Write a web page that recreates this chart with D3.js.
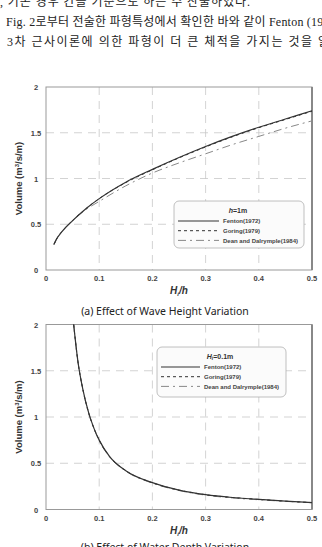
<!DOCTYPE html>
<meta charset="utf-8">
<style>
  body { margin: 0; background: #fff; }
  svg { display: block; }
</style>
<body>
<script src="https://cdn.jsdelivr.net/npm/d3@7"></script>
<script>
// text lines above the figure (cut by the page edge)
var textLines = [
  ", 기존 경우 간을 기준으로 하는 수 산출하였다.",
  "Fig. 2로부터 전술한 파형특성에서 확인한 바와 같이 Fenton (1972)",
  "3차 근사이론에 의한 파형이 더 큰 체적을 가지는 것을 알"
];

var xTicks = [0, 0.1, 0.2, 0.3, 0.4, 0.5];
var yTicks = [0, 0.5, 1, 1.5, 2];
var seriesNames = ["Fenton(1972)", "Goring(1979)", "Dean and Dalrymple(1984)"];

// (a) wave height variation, h = 1m
var heightX = [0.015, 0.02, 0.03, 0.05, 0.075, 0.1, 0.15, 0.2, 0.25, 0.3, 0.35, 0.4, 0.45, 0.5];
var heightFenton = [0.28, 0.34, 0.42, 0.54, 0.67, 0.78, 0.96, 1.10, 1.23, 1.35, 1.46, 1.56, 1.65, 1.74];
var heightGoring = [0.28, 0.34, 0.42, 0.54, 0.67, 0.78, 0.955, 1.095, 1.225, 1.345, 1.455, 1.555, 1.645, 1.735];
var heightDean   = [0.28, 0.34, 0.42, 0.54, 0.66, 0.75, 0.92, 1.06, 1.17, 1.27, 1.37, 1.46, 1.55, 1.63];

// (b) water depth variation, Hi = 0.1m
var depthX = [0.052, 0.06, 0.07, 0.08, 0.09, 0.1, 0.12, 0.15, 0.2, 0.25, 0.3, 0.35, 0.4, 0.45, 0.5];
var depthFenton = [2.0, 1.6, 1.28, 1.05, 0.88, 0.75, 0.57, 0.42, 0.29, 0.21, 0.16, 0.13, 0.11, 0.09, 0.075];
var depthGoring = [2.0, 1.6, 1.28, 1.05, 0.88, 0.75, 0.57, 0.42, 0.29, 0.21, 0.16, 0.13, 0.11, 0.09, 0.075];
var depthDean   = [2.0, 1.6, 1.28, 1.04, 0.875, 0.745, 0.565, 0.415, 0.285, 0.205, 0.155, 0.125, 0.105, 0.088, 0.073];

var width = 322, height = 547;
var svg = d3.select("body").append("svg")
    .attr("width", width)
    .attr("height", height);

// body text
var serif = "'Liberation Serif', 'Noto Sans CJK KR', serif";
svg.append("text").attr("x", 0).attr("y", 6)
    .attr("textLength", 250).attr("lengthAdjust", "spacing")
    .style("font-family", serif).style("font-size", "12px").style("fill", "#222")
    .text(textLines[0]);
svg.append("text").attr("x", 6).attr("y", 26)
    .attr("textLength", 334).attr("lengthAdjust", "spacing")
    .style("font-family", serif).style("font-size", "12px").style("fill", "#222")
    .text(textLines[1]);
svg.append("text").attr("x", 7).attr("y", 46)
    .attr("textLength", 322).attr("lengthAdjust", "spacing")
    .style("font-family", serif).style("font-size", "12px").style("fill", "#222")
    .text(textLines[2]);

var styles = [
  { color: "#333", dash: null, w: 1.2 },
  { color: "#333", dash: "3,3", w: 1 },
  { color: "#888", dash: "8,4,2,4", w: 1 }
];

function drawPanel(opt) {
  var x = d3.scaleLinear().domain([0, 0.5]).range([46, 312]);
  var y = d3.scaleLinear().domain([0, 2]).range([opt.bottom, opt.top]);
  var g = svg.append("g");
  var sans = "'Liberation Sans', Arial, sans-serif";

  // dashed grid
  g.selectAll(".gx").data(xTicks.slice(1, -1)).enter().append("line")
      .attr("x1", function(d) { return x(d); }).attr("x2", function(d) { return x(d); })
      .attr("y1", y(2)).attr("y2", y(0))
      .attr("stroke", "#c8c8c8").attr("stroke-dasharray", "8,6").attr("stroke-width", 0.8);
  g.selectAll(".gy").data(yTicks.slice(1, -1)).enter().append("line")
      .attr("x1", x(0)).attr("x2", x(0.5))
      .attr("y1", function(d) { return y(d); }).attr("y2", function(d) { return y(d); })
      .attr("stroke", "#c8c8c8").attr("stroke-dasharray", "8,6").attr("stroke-width", 0.8);

  // frame
  g.append("rect").attr("x", x(0)).attr("y", y(2))
      .attr("width", x(0.5) - x(0)).attr("height", y(0) - y(2))
      .attr("fill", "none").attr("stroke", "#999").attr("stroke-width", 1);
  g.append("line").attr("x1", x(0.5)).attr("x2", x(0.5)).attr("y1", y(2)).attr("y2", y(0))
      .attr("stroke", "#888").attr("stroke-width", 2);

  // curves
  var line = d3.line()
      .x(function(d) { return x(d[0]); })
      .y(function(d) { return y(d[1]); })
      .curve(d3.curveMonotoneX);
  var order = [2, 1, 0];
  order.forEach(function(i) {
    var pts = opt.xs.map(function(v, k) { return [v, opt.series[i][k]]; });
    g.append("path").attr("d", line(pts))
        .attr("fill", "none").attr("stroke", styles[i].color)
        .attr("stroke-width", styles[i].w)
        .attr("stroke-dasharray", styles[i].dash);
  });

  // tick labels
  g.selectAll(".tx").data(xTicks).enter().append("text")
      .attr("x", function(d) { return x(d); }).attr("y", opt.bottom + 11)
      .attr("text-anchor", "middle")
      .style("font-family", sans).style("font-weight", "bold").style("font-size", "7.5px").style("fill", "#444")
      .text(function(d) { return d3.format("")(d); });
  g.selectAll(".ty").data(yTicks).enter().append("text")
      .attr("x", 36).attr("y", function(d) { return y(d) + 3; })
      .attr("text-anchor", "middle")
      .style("font-family", sans).style("font-weight", "bold").style("font-size", "7.5px").style("fill", "#444")
      .text(function(d) { return d3.format("")(d); });

  // axis titles
  var yt = g.append("text")
      .attr("transform", "translate(22," + ((opt.top + opt.bottom) / 2) + ") rotate(-90)")
      .attr("text-anchor", "middle")
      .style("font-family", sans).style("font-weight", "bold").style("font-size", "9.5px").style("fill", "#333");
  yt.append("tspan").text("Volume (m");
  yt.append("tspan").attr("dy", -3).style("font-size", "6px").text("3");
  yt.append("tspan").attr("dy", 3).text("/s/m)");

  var xt = g.append("text").attr("x", x(0.25)).attr("y", opt.bottom + 24)
      .attr("text-anchor", "middle")
      .style("font-family", sans).style("font-weight", "bold").style("font-style", "italic")
      .style("font-size", "10px").style("fill", "#333");
  xt.append("tspan").text("H");
  xt.append("tspan").attr("dy", 2).style("font-size", "6px").text("i");
  xt.append("tspan").attr("dy", -2).text("/h");

  // legend
  var L = opt.legend;
  var lg = g.append("g");
  lg.append("rect").attr("x", L.x).attr("y", L.y).attr("width", L.w).attr("height", L.h)
      .attr("rx", 5).attr("fill", "#fbfbfb").attr("stroke", "#b0b0b0").attr("stroke-width", 0.8);
  var tt = lg.append("text").attr("x", L.titleX).attr("y", L.y + 11.5)
      .attr("text-anchor", "middle")
      .style("font-family", sans).style("font-weight", "bold").style("font-size", "7px").style("fill", "#333");
  L.title(tt);
  seriesNames.forEach(function(name, i) {
    var ry = L.y + 20 + i * 9.7;
    lg.append("line").attr("x1", L.x + 4).attr("x2", L.x + 4 + L.lineW)
        .attr("y1", ry).attr("y2", ry)
        .attr("stroke", styles[i].color).attr("stroke-width", styles[i].w)
        .attr("stroke-dasharray", styles[i].dash);
    lg.append("text").attr("x", L.x + 8 + L.lineW).attr("y", ry + 2.3)
        .style("font-family", sans).style("font-weight", "bold").style("font-size", "6px").style("fill", "#444")
        .text(name);
  });

  // caption
  svg.append("text").attr("x", 165).attr("y", opt.captionY)
      .attr("text-anchor", "middle")
      .style("font-family", "'Noto Sans', sans-serif").style("font-size", "10.5px").style("fill", "#222")
      .text(opt.caption);
}

drawPanel({
  top: 87, bottom: 270,
  xs: heightX, series: [heightFenton, heightGoring, heightDean],
  legend: { x: 174, y: 201, w: 130, h: 47, lineW: 41, titleX: 238,
    title: function(t) {
      t.append("tspan").style("font-style", "italic").text("h");
      t.append("tspan").text("=1m");
    } },
  caption: "(a) Effect of Wave Height Variation", captionY: 315
});

drawPanel({
  top: 324.5, bottom: 509.5,
  xs: depthX, series: [depthFenton, depthGoring, depthDean],
  legend: { x: 157, y: 347, w: 129, h: 50, lineW: 39, titleX: 220,
    title: function(t) {
      t.append("tspan").style("font-style", "italic").text("H");
      t.append("tspan").attr("dy", 1.5).style("font-size", "5px").style("font-style", "italic").text("i");
      t.append("tspan").attr("dy", -1.5).text("=0.1m");
    } },
  caption: "(b) Effect of Water Depth Variation", captionY: 551
});
</script>
</body>
</html>
